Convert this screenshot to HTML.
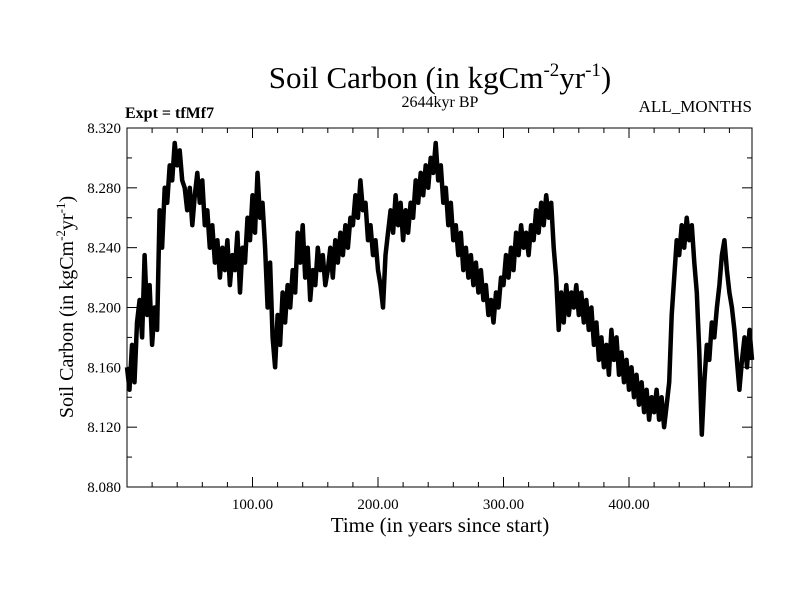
<!DOCTYPE html>
<html><head><meta charset="utf-8"><style>
body{margin:0;background:#fff;}
svg{display:block;font-family:"Liberation Serif",serif;}
</style></head><body>
<svg id="chart" width="800" height="600" viewBox="0 0 800 600">
<rect width="800" height="600" fill="#fff"/>
<text x="440" y="88" font-size="31" text-anchor="middle">Soil Carbon (in kgCm<tspan font-size="19" dy="-12">-2</tspan><tspan dy="12">yr</tspan><tspan font-size="19" dy="-12">-1</tspan><tspan dy="12">)</tspan></text>
<text x="125" y="118" font-size="16" font-weight="bold">Expt = tfMf7</text>
<text x="440" y="107" font-size="16" text-anchor="middle">2644kyr BP</text>
<text x="752" y="112" font-size="17" text-anchor="end">ALL_MONTHS</text>
<text transform="translate(73,307) rotate(-90)" font-size="20" text-anchor="middle">Soil Carbon (in kgCm<tspan font-size="13" dy="-8">-2</tspan><tspan dy="8">yr</tspan><tspan font-size="13" dy="-8">-1</tspan><tspan dy="8">)</tspan></text>
<text x="440" y="532" font-size="21" text-anchor="middle">Time (in years since start)</text>
<g id="axes"></g>
<g id="series"></g>
</svg>
<script>
const yTicks=[8.080,8.120,8.160,8.200,8.240,8.280,8.320];
const yTickLabels=["8.080","8.120","8.160","8.200","8.240","8.280","8.320"];
const xTicks=[100,200,300,400];
const xTickLabels=["100.00","200.00","300.00","400.00"];
const timeStep=2;
const soilCarbon=[
8.160,8.145,8.175,8.150,8.190,8.205,8.180,8.235,8.195,8.215,
8.175,8.200,8.185,8.265,8.240,8.280,8.270,8.295,8.285,8.310,
8.295,8.305,8.285,8.280,8.265,8.280,8.255,8.275,8.290,8.270,
8.285,8.255,8.265,8.240,8.255,8.230,8.245,8.220,8.240,8.225,
8.245,8.215,8.235,8.225,8.250,8.210,8.240,8.230,8.260,8.245,
8.275,8.250,8.290,8.260,8.270,8.240,8.200,8.230,8.180,8.160,
8.195,8.175,8.210,8.190,8.215,8.200,8.225,8.210,8.250,8.230,
8.255,8.220,8.240,8.205,8.225,8.215,8.240,8.225,8.235,8.215,
8.225,8.240,8.220,8.245,8.230,8.250,8.235,8.255,8.240,8.260,
8.255,8.275,8.260,8.285,8.265,8.270,8.245,8.255,8.235,8.245,
8.225,8.215,8.200,8.235,8.250,8.265,8.250,8.275,8.255,8.270,
8.245,8.265,8.250,8.270,8.260,8.285,8.270,8.290,8.275,8.295,
8.280,8.300,8.290,8.310,8.285,8.295,8.270,8.280,8.255,8.270,
8.245,8.255,8.235,8.250,8.225,8.240,8.220,8.235,8.215,8.230,
8.210,8.225,8.205,8.215,8.195,8.205,8.190,8.210,8.200,8.220,
8.215,8.235,8.220,8.240,8.225,8.250,8.235,8.255,8.240,8.250,
8.235,8.255,8.245,8.265,8.250,8.270,8.255,8.275,8.260,8.270,
8.240,8.220,8.185,8.210,8.190,8.215,8.195,8.210,8.200,8.215,
8.195,8.210,8.190,8.205,8.185,8.200,8.175,8.190,8.165,8.180,
8.160,8.175,8.155,8.185,8.165,8.180,8.155,8.170,8.150,8.165,
8.145,8.160,8.140,8.155,8.135,8.150,8.130,8.145,8.125,8.140,
8.130,8.145,8.125,8.140,8.120,8.135,8.150,8.195,8.220,8.245,
8.235,8.255,8.240,8.260,8.245,8.255,8.230,8.210,8.170,8.115,
8.150,8.175,8.165,8.190,8.180,8.200,8.215,8.235,8.245,8.225,
8.210,8.200,8.185,8.165,8.145,8.165,8.180,8.160,8.185,8.165];

const L=127,R=752,T=128,B=487,X0=0,X1=498,Y0=8.08,Y1=8.32;
const xs=t=>L+(t-X0)/(X1-X0)*(R-L);
const ys=v=>B-(v-Y0)/(Y1-Y0)*(B-T);
const NS="http://www.w3.org/2000/svg";
const axes=document.getElementById('axes');
function mk(tag,attrs,parent){const e=document.createElementNS(NS,tag);for(const k in attrs)e.setAttribute(k,attrs[k]);parent.appendChild(e);return e;}
const frame=mk('rect',{x:L,y:T,width:R-L,height:B-T,fill:'none',stroke:'#000','stroke-width':1},axes);


for(let t=20;t<X1;t+=20){const x=xs(t);const major=t%100===0;const len=major?10:5;
 const a=mk('line',{x1:x,y1:B,x2:x,y2:B-len,stroke:'#000'},axes);
 
 
 const b=mk('line',{x1:x,y1:T,x2:x,y2:T+len,stroke:'#000'},axes);
 
 }
for(let i=1;i<12;i++){const v=Y0+i*0.02;const y=ys(v);const major=i%2===0;const len=major?10:5;
 const a=mk('line',{x1:L,y1:y,x2:L+len,y2:y,stroke:'#000'},axes);
 
 
 const b=mk('line',{x1:R,y1:y,x2:R-len,y2:y,stroke:'#000'},axes);
 
 }
yTicks.forEach((v,i)=>{const t=mk('text',{x:L-6,y:ys(v)+5,'font-size':15,'text-anchor':'end'},axes);t.textContent=yTickLabels[i];
 
 });
xTicks.forEach((v,i)=>{const t=mk('text',{x:xs(v),y:B+22,'font-size':15,'text-anchor':'middle'},axes);t.textContent=xTickLabels[i];
 
 });
const pts=soilCarbon.map((v,i)=>xs(i*timeStep).toFixed(1)+','+ys(v).toFixed(1)).join(' ');
const line=mk('polyline',{points:pts,fill:'none',stroke:'#000','stroke-width':4.5,'stroke-linejoin':'round'},document.getElementById('series'));


</script>
</body></html>
